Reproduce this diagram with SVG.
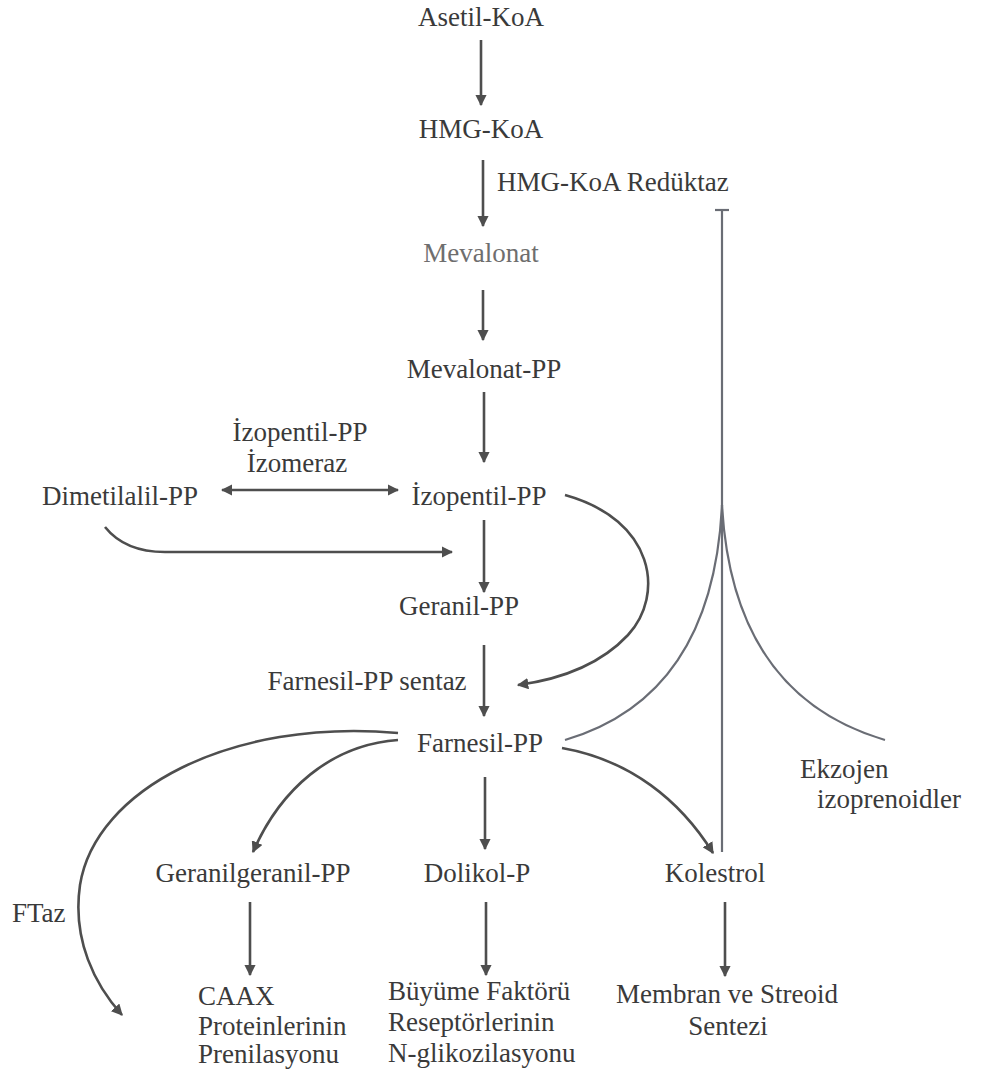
<svg xmlns="http://www.w3.org/2000/svg" width="996" height="1081" viewBox="0 0 996 1081">
<style>
text{font-size:27px;fill:#3a3a3a}
.c{text-anchor:middle}
.light{fill:#6e6e6e}
.ln{fill:none;stroke:#4e4e4e;stroke-width:2.6}
.thin{fill:none;stroke:#6a6d75;stroke-width:2.2}
</style>
<defs>
<marker id="ah" viewBox="0 0 10 10" refX="9" refY="5" markerWidth="4.4" markerHeight="4.4" orient="auto-start-reverse" markerUnits="strokeWidth">
<path d="M0,0 L10,5 L0,10 z" fill="#4e4e4e"/>
</marker>
</defs>
<rect width="996" height="1081" fill="#ffffff"/>
<g id="connectors">
<line class="ln" x1="481" y1="40" x2="481" y2="105" marker-end="url(#ah)"/>
<line class="ln" x1="483" y1="160" x2="483" y2="226" marker-end="url(#ah)"/>
<line class="ln" x1="483" y1="290" x2="483" y2="340" marker-end="url(#ah)"/>
<line class="ln" x1="484" y1="392" x2="484" y2="462" marker-end="url(#ah)"/>
<line class="ln" x1="222" y1="490" x2="398" y2="490" marker-start="url(#ah)" marker-end="url(#ah)"/>
<line class="ln" x1="484" y1="520" x2="484" y2="592" marker-end="url(#ah)"/>
<path class="ln" d="M105,527 Q125,552 165,552 L452,552" marker-end="url(#ah)"/>
<path class="ln" d="M565,495 C655,520 665,595 628,635 C598,667 555,680 518,685" marker-end="url(#ah)"/>
<line class="ln" x1="484" y1="645" x2="484" y2="716" marker-end="url(#ah)"/>
<path class="ln" d="M398,733 C230,718 95,790 80,885 C72,940 95,985 122,1015" marker-end="url(#ah)"/>
<path class="ln" d="M398,740 C330,745 280,790 253,852" marker-end="url(#ah)"/>
<line class="ln" x1="485" y1="777" x2="485" y2="849" marker-end="url(#ah)"/>
<path class="ln" d="M562,748 C630,760 680,800 713,853" marker-end="url(#ah)"/>
<line class="ln" x1="250" y1="902" x2="250" y2="975" marker-end="url(#ah)"/>
<line class="ln" x1="486" y1="902" x2="486" y2="975" marker-end="url(#ah)"/>
<line class="ln" x1="725" y1="902" x2="725" y2="976" marker-end="url(#ah)"/>
<line class="thin" x1="722" y1="210" x2="722" y2="852"/>
<line class="thin" x1="715" y1="210" x2="729" y2="210"/>
<path class="thin" d="M565,740 C650,715 715,650 722,505"/>
<path class="thin" d="M885,740 C800,715 730,650 722,505"/>
</g>
<g font-family="Liberation Serif, DejaVu Serif, Times New Roman, serif">
<g id="n-asetil"><text class="c" x="481" y="26">Asetil-KoA</text></g>
<g id="n-hmgkoa"><text class="c" x="481" y="138">HMG-KoA</text></g>
<g id="l-reduktaz"><text x="497" y="191">HMG-KoA Redüktaz</text></g>
<g id="n-mevalonat"><text class="c light" x="481" y="262">Mevalonat</text></g>
<g id="n-mevalonatpp"><text class="c" x="484" y="378">Mevalonat-PP</text></g>
<g id="l-izomeraz"><text class="c" x="300" y="441">İzopentil-PP</text><text class="c" x="297" y="472">İzomeraz</text></g>
<g id="n-dimetilalil"><text class="c" x="120" y="505">Dimetilalil-PP</text></g>
<g id="n-izopentil"><text class="c" x="479" y="505">İzopentil-PP</text></g>
<g id="n-geranil"><text class="c" x="459" y="615">Geranil-PP</text></g>
<g id="l-sentaz"><text class="c" x="367" y="690">Farnesil-PP sentaz</text></g>
<g id="n-farnesil"><text class="c" x="480" y="752">Farnesil-PP</text></g>
<g id="n-ekzojen"><text x="800" y="778">Ekzojen</text><text x="817" y="808">izoprenoidler</text></g>
<g id="n-ggpp"><text class="c" x="253" y="882">Geranilgeranil-PP</text></g>
<g id="n-dolikol"><text class="c" x="477" y="882">Dolikol-P</text></g>
<g id="n-kolestrol"><text class="c" x="715" y="882">Kolestrol</text></g>
<g id="l-ftaz"><text x="12" y="922">FTaz</text></g>
<g id="n-caax"><text x="198" y="1005">CAAX</text><text x="198" y="1035">Proteinlerinin</text><text x="198" y="1063">Prenilasyonu</text></g>
<g id="n-buyume"><text x="388" y="1000">Büyüme Faktörü</text><text x="388" y="1031">Reseptörlerinin</text><text x="388" y="1062">N-glikozilasyonu</text></g>
<g id="n-membran"><text class="c" x="727" y="1003">Membran ve Streoid</text><text class="c" x="728" y="1035">Sentezi</text></g>
</g>
</svg>
